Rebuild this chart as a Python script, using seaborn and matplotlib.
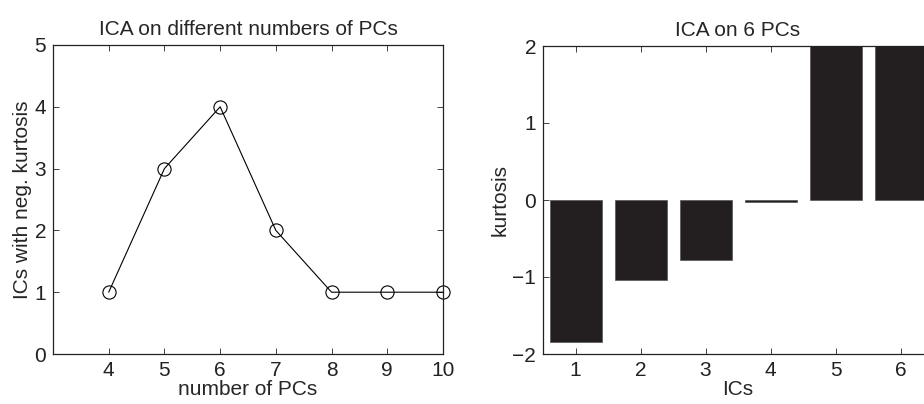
import matplotlib
matplotlib.use("Agg")
import matplotlib.pyplot as plt
import seaborn as sns
import pandas as pd

# Data
n_pcs = [4, 5, 6, 7, 8, 9, 10]
neg_kurt_count = [1, 3, 4, 2, 1, 1, 1]
ics = [1, 2, 3, 4, 5, 6]
kurtosis = [-1.84, -1.04, -0.78, -0.02, 2.6, 3.0]

sns.set_theme(style="ticks")
plt.rcParams['font.family'] = ['Liberation Sans', 'DejaVu Sans']
plt.rcParams['axes.unicode_minus'] = True

fig = plt.figure(figsize=(9.24, 4.04), dpi=100)
ax1 = fig.add_axes([53/924, 1-354/404, 390/924, 309/404])
ax2 = fig.add_axes([543/924, 1-354/404, 390/924, 308/404])

fs_tick = 15
fs_lab = 15

df1 = pd.DataFrame({"pcs": n_pcs, "cnt": neg_kurt_count})
sns.lineplot(data=df1, x="pcs", y="cnt", ax=ax1, color="black", linewidth=0.8,
             marker="o", markersize=9.5, markerfacecolor="none",
             markeredgecolor="black", markeredgewidth=0.8, clip_on=False)
ax1.set_xlim(3, 10)
ax1.set_ylim(0, 5)
ax1.set_xticks([4, 5, 6, 7, 8, 9, 10])
ax1.set_yticks([0, 1, 2, 3, 4, 5])
ax1.set_xlabel("number of PCs", fontsize=fs_lab, labelpad=0)
ax1.set_ylabel("ICs with neg. kurtosis", fontsize=fs_lab, labelpad=2)
ax1.set_title("ICA on different numbers of PCs", fontsize=fs_lab, pad=7)

df2 = pd.DataFrame({"ic": ics, "k": kurtosis})
sns.barplot(data=df2, x="ic", y="k", ax=ax2, native_scale=True, width=0.8,
            color="#231f20", saturation=1, edgecolor="#555555", linewidth=0.5)
ax2.set_xlim(0.5, 6.5)
ax2.set_ylim(-2, 2)
ax2.set_xticks(ics)
ax2.set_yticks([-2, -1, 0, 1, 2])
ax2.set_xlabel("ICs", fontsize=fs_lab, labelpad=0)
ax2.set_ylabel("kurtosis", fontsize=fs_lab, labelpad=2)
ax2.set_title("ICA on 6 PCs", fontsize=fs_lab, pad=7)

for ax in (ax1, ax2):
    for s in ax.spines.values():
        s.set_visible(True)
        s.set_linewidth(0.9)
        s.set_color("#222222")
    ax.tick_params(direction="in", length=4, width=0.6, labelsize=fs_tick,
                   top=True, right=True, colors="#222222", pad=5)
    ax.tick_params(labelcolor="#222222")
    ax.grid(False)

fig.savefig("out.png", dpi=100)
